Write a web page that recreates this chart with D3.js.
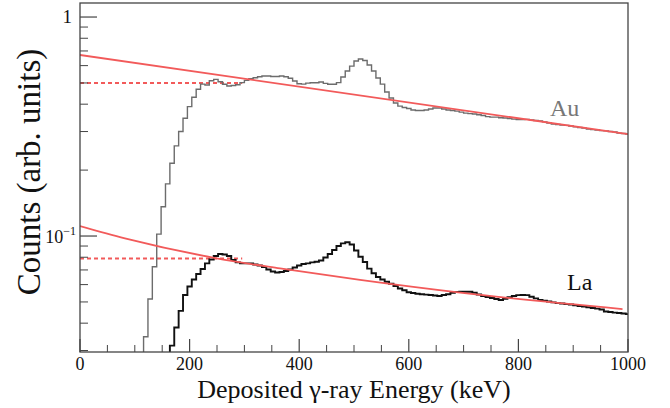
<!DOCTYPE html>
<html><head><meta charset="utf-8">
<script src="https://cdn.jsdelivr.net/npm/d3@7"></script>
<style>html,body{margin:0;padding:0;background:#fff;}svg{display:block;}</style>
</head><body>
<svg id="chart" width="670" height="408"></svg>
<script>
// ---------- data ----------
const binStart = 4;      // keV, low edge of first bin
const binWidth = 8;      // keV
const auCounts = [0,0,0,0,0,0,0,0,0,0,0,0,0,0,
 0.0347,0.0516,0.0724,0.102,0.136,0.173,0.215,0.258,0.300,0.345,
 0.390,0.430,0.468,0.494,0.489,0.512,0.519,0.506,0.493,0.484,
 0.487,0.491,0.502,0.514,0.523,0.528,0.534,0.538,0.538,0.535,
 0.535,0.538,0.534,0.525,0.510,0.496,0.494,0.499,0.501,0.501,
 0.505,0.498,0.493,0.493,0.502,0.532,0.567,0.597,0.630,0.643,
 0.633,0.604,0.567,0.527,0.494,0.455,0.427,0.405,0.392,0.386,
 0.382,0.376,0.374,0.374,0.376,0.380,0.384,0.384,0.380,0.376,
 0.374,0.372,0.368,0.364,0.362,0.361,0.358,0.355,0.351,0.349,
 0.349,0.347,0.346,0.344,0.342,0.340,0.340,0.341,0.339,0.337,
 0.335,0.332,0.328,0.325,0.323,0.321,0.320,0.318,0.315,0.313,
 0.311,0.308,0.306,0.305,0.303,0.302,0.300,0.299,0.295,0.294,0.292];
const laCounts = [0,0,0,0,0,0,0,0,0,0,0,0,0,0,0,0,0,0,0,0,
 0.0316,0.0382,0.0455,0.0538,0.0588,0.0633,0.0671,0.0707,0.0750,0.0781,
 0.0810,0.0828,0.0823,0.0810,0.0777,0.0758,0.0750,0.0750,0.0750,0.0741,
 0.0733,0.0722,0.0703,0.0689,0.0681,0.0685,0.0692,0.0703,0.0718,0.0733,
 0.0745,0.0750,0.0758,0.0763,0.0773,0.0798,0.0828,0.0863,0.0900,0.0926,
 0.0936,0.0915,0.0859,0.0804,0.0761,0.0710,0.0676,0.0650,0.0633,0.0618,
 0.0605,0.0591,0.0576,0.0565,0.0554,0.0549,0.0545,0.0542,0.0540,0.0538,
 0.0535,0.0532,0.0538,0.0542,0.0550,0.0555,0.0557,0.0557,0.0557,0.0551,
 0.0541,0.0532,0.0527,0.0521,0.0516,0.0510,0.0517,0.0525,0.0532,0.0537,
 0.0538,0.0537,0.0528,0.0519,0.0510,0.0506,0.0502,0.0498,0.0494,0.0492,
 0.0489,0.0487,0.0483,0.0479,0.0477,0.0473,0.0469,0.0466,0.0462,0.0452,
 0.0450,0.0447,0.0445,0.0443,0.0440];
// fitted backgrounds
const auFitE = [0, 1000];
const auFit  = [0.671, 0.292];
const laFitE = [0, 82, 247, 365, 511, 694, 990];
const laFit  = [0.111, 0.0976, 0.0793, 0.0711, 0.0630, 0.0551, 0.0464];
// dashed plateau levels
const auLevel = 0.5, laLevel = 0.0790, levelEnd = 296;
const xMajorTicks = [0, 200, 400, 600, 800, 1000];
const xMinorTicks = [50,100,150,250,300,350,450,500,550,650,700,750,850,900,950];
const yMajorTicks = [1, 0.1];
const yMinorTicks = [0.9,0.8,0.7,0.6,0.5,0.4,0.3,0.2,0.09,0.08,0.07,0.06,0.05,0.04,0.03];
const xTitle = "Deposited γ-ray Energy (keV)";
const yTitle = "Counts (arb. units)";

// ---------- layout ----------
const L = 80, R = 628, T = 3, B = 352;
const svg = d3.select("#chart");
const font = "'Liberation Serif','Times New Roman',serif";
const x = d3.scaleLinear().domain([0, 1000]).range([L, R]);
const y = d3.scaleLog().domain([0.02954, 1.159]).range([B, T]);

svg.append("clipPath").attr("id","clip").append("rect")
  .attr("x", L).attr("y", T).attr("width", R-L).attr("height", B-T);
const plot = svg.append("g").attr("clip-path","url(#clip)");

function stepPoints(counts){
  const pts = counts.map((c,i)=>[binStart + i*binWidth, c > 0 ? c : 1e-4]);
  pts.push([binStart + counts.length*binWidth, counts[counts.length-1]]);
  return pts;
}
const stepLine = d3.line().x(d=>x(d[0])).y(d=>y(d[1])).curve(d3.curveStepAfter);
const fitLine = d3.line().x(d=>x(d[0])).y(d=>y(d[1]));
const fitCurve = d3.line().x(d=>x(d[0])).y(d=>y(d[1])).curve(d3.curveMonotoneX);

const red = "#f25a5a";
// dashed levels
[[auLevel],[laLevel]].forEach(([v])=>{
  plot.append("path").attr("d", fitLine([[0,v],[levelEnd,v]]))
    .attr("fill","none").attr("stroke",red).attr("stroke-width",2)
    .attr("stroke-dasharray","4,3");
});
// histograms
plot.append("path").attr("d", stepLine(stepPoints(auCounts)))
  .attr("fill","none").attr("stroke","#6c6c6c").attr("stroke-width",1.4);
plot.append("path").attr("d", stepLine(stepPoints(laCounts)))
  .attr("fill","none").attr("stroke","#111").attr("stroke-width",1.9);
// fits
plot.append("path").attr("d", fitLine(auFitE.map((e,i)=>[e,auFit[i]])))
  .attr("fill","none").attr("stroke",red).attr("stroke-width",1.8);
plot.append("path").attr("d", fitCurve(laFitE.map((e,i)=>[e,laFit[i]])))
  .attr("fill","none").attr("stroke",red).attr("stroke-width",1.8);

// frame
const axisCol = "#444";
svg.append("rect").attr("x",L).attr("y",T).attr("width",R-L).attr("height",B-T)
  .attr("fill","none").attr("stroke",axisCol).attr("stroke-width",1.3);

// x ticks (inward)
const gx = svg.append("g");
xMajorTicks.forEach(t=>{
  gx.append("line").attr("x1",x(t)).attr("x2",x(t)).attr("y1",B).attr("y2",B-13)
    .attr("stroke",axisCol).attr("stroke-width",1.2);
  gx.append("text").attr("x",x(t)).attr("y",B+18).attr("text-anchor","middle")
    .attr("font-family",font).attr("font-size",18).attr("fill","#111").text(t);
});
xMinorTicks.forEach(t=>{
  gx.append("line").attr("x1",x(t)).attr("x2",x(t)).attr("y1",B).attr("y2",B-7)
    .attr("stroke",axisCol).attr("stroke-width",1);
});
// y ticks
const gy = svg.append("g");
yMajorTicks.forEach(t=>{
  gy.append("line").attr("x1",L).attr("x2",L+17).attr("y1",y(t)).attr("y2",y(t))
    .attr("stroke",axisCol).attr("stroke-width",1.2);
});
yMinorTicks.forEach(t=>{
  gy.append("line").attr("x1",L).attr("x2",L+8).attr("y1",y(t)).attr("y2",y(t))
    .attr("stroke",axisCol).attr("stroke-width",1);
});
gy.append("text").attr("x",L-8).attr("y",y(1)+6).attr("text-anchor","end")
  .attr("font-family",font).attr("font-size",19).attr("fill","#111").text("1");
const lab = gy.append("text").attr("x",L-4).attr("y",y(0.1)+7).attr("text-anchor","end")
  .attr("font-family",font).attr("font-size",18).attr("fill","#111");
lab.append("tspan").text("10");
lab.append("tspan").attr("dy",-8).attr("font-size",12).text("−1");

// titles
svg.append("text").attr("x",(L+R)/2).attr("y",398).attr("text-anchor","middle")
  .attr("font-family",font).attr("font-size",26).attr("fill","#111").text(xTitle);
svg.append("text").attr("transform","translate(40,172) rotate(-90)").attr("text-anchor","middle")
  .attr("font-family",font).attr("font-size",33).attr("fill","#111").text(yTitle);

// series labels
svg.append("text").attr("x",550).attr("y",116).attr("font-family",font).attr("font-size",24)
  .attr("fill","#777").text("Au");
svg.append("text").attr("x",567).attr("y",290).attr("font-family",font).attr("font-size",24)
  .attr("fill","#111").text("La");
</script>
</body></html>
